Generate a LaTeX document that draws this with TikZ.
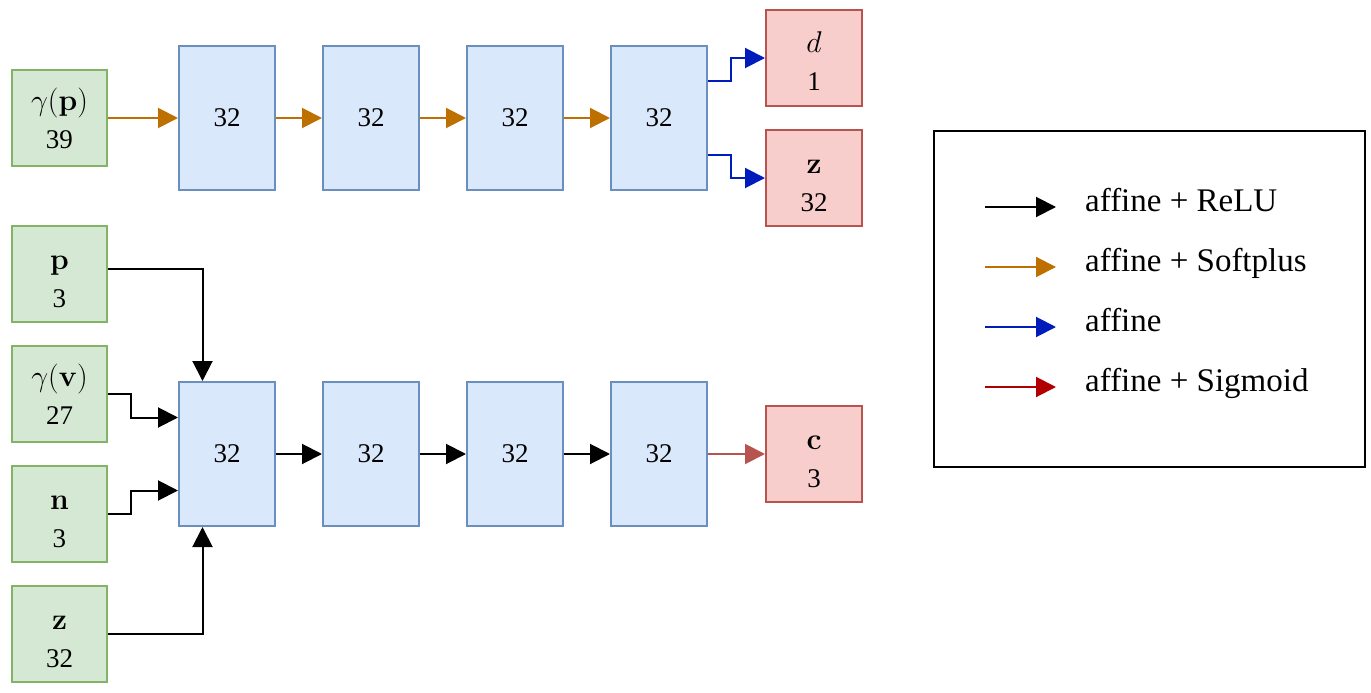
\RequirePackage{fix-cm}
\documentclass[tikz,border=0pt]{standalone}
\usepackage[no-math]{fontspec}
\setmainfont{Liberation Serif}
\usetikzlibrary{arrows.meta,calc}
\definecolor{gfill}{HTML}{D5E8D4}
\definecolor{gdraw}{HTML}{82B366}
\definecolor{bfill}{HTML}{DAE8FC}
\definecolor{bdraw}{HTML}{6C8EBF}
\definecolor{rfill}{HTML}{F8CECC}
\definecolor{rdraw}{HTML}{B85450}
\definecolor{orangeA}{HTML}{BD7000}
\definecolor{blueA}{HTML}{001DBC}
\definecolor{redA}{HTML}{B20000}
\newcommand\mth[1]{{\fontsize{30}{38}\selectfont$#1$}}
\begin{document}
\begin{tikzpicture}[x=1pt,y=-1pt,
  box/.style={draw, line width=2pt, inner sep=0pt, align=center,
    font=\fontsize{27}{38}\selectfont},
  inbox/.style={box, fill=gfill, draw=gdraw, minimum width=95pt, minimum height=96pt},
  hid/.style={box, fill=bfill, draw=bdraw, minimum width=96pt, minimum height=144pt},
  outbox/.style={box, fill=rfill, draw=rdraw, minimum width=96pt, minimum height=96pt},
  fixlines/.style={text height=70pt, text depth=4pt},
  conn/.style={line width=2pt, -{Triangle[length=20pt,width=20pt]}},
  relu/.style={conn, black},
  soft/.style={conn, orangeA},
  aff/.style={conn, blueA},
  sigc/.style={conn, rdraw},
  sigl/.style={conn, redA},
  legtext/.style={anchor=base west, inner sep=0pt, font=\fontsize{33}{40}\selectfont}
]
\useasboundingbox (0,0) rectangle (1371,693);
% top row
\node[inbox] (gp) at (59.5,118) {\mth{\gamma(\mathbf{p})}\\39};
\node[hid] (a1) at (227,118) {32};
\node[hid] (a2) at (371,118) {32};
\node[hid] (a3) at (515,118) {32};
\node[hid] (a4) at (659,118) {32};
\node[outbox, fixlines] (d) at (814,58) {\mth{d}\\1};
\node[outbox, fixlines] (zo) at (814,178) {\mth{\mathbf{z}}\\32};
\draw[soft] (gp) -- (a1);
\draw[soft] (a1) -- (a2);
\draw[soft] (a2) -- (a3);
\draw[soft] (a3) -- (a4);
\draw[aff] ($(a4.north east)!0.25!(a4.south east)$) -- ++(23,0) |- (d.west);
\draw[aff] ($(a4.north east)!0.75!(a4.south east)$) -- ++(23,0) |- (zo.west);
% bottom row
\node[inbox, fixlines] (p) at (59.5,274) {\mth{\mathbf{p}}\\3};
\node[inbox] (gv) at (59.5,394) {\mth{\gamma(\mathbf{v})}\\27};
\node[inbox, fixlines] (n) at (59.5,514) {\mth{\mathbf{n}}\\3};
\node[inbox, fixlines] (z) at (59.5,634) {\mth{\mathbf{z}}\\32};
\node[hid] (b1) at (227,454) {32};
\node[hid] (b2) at (371,454) {32};
\node[hid] (b3) at (515,454) {32};
\node[hid] (b4) at (659,454) {32};
\node[outbox, fixlines] (c) at (814,454) {\mth{\mathbf{c}}\\3};
\draw[relu] ([yshift=5pt]p.east) -| ($(b1.north west)!0.25!(b1.north east)$);
\draw[relu] (gv.east) -- ++(23,0) |- ($(b1.north west)!0.25!(b1.south west)$);
\draw[relu] (n.east) -- ++(23,0) |- ($(b1.north west)!0.75!(b1.south west)$);
\draw[relu] (z.east) -| ($(b1.south west)!0.25!(b1.south east)$);
\draw[relu] (b1) -- (b2);
\draw[relu] (b2) -- (b3);
\draw[relu] (b3) -- (b4);
\draw[sigc] (b4) -- (c);
% legend
\node[draw, line width=2pt, minimum width=431pt, minimum height=336pt, inner sep=0pt] (leg) at (1149.5,299) {};
\coordinate (l1s) at (985,207); \coordinate (l1e) at (1056,207);
\coordinate (l2s) at (985,267); \coordinate (l2e) at (1056,267);
\coordinate (l3s) at (985,327); \coordinate (l3e) at (1056,327);
\coordinate (l4s) at (985,387); \coordinate (l4e) at (1056,387);
\draw[relu] (l1s) -- (l1e);
\draw[soft] (l2s) -- (l2e);
\draw[aff] (l3s) -- (l3e);
\draw[sigl] (l4s) -- (l4e);
\node[legtext] (t1) at (1085,211) {affine + ReLU};
\node[legtext] (t2) at (1085,271) {affine + Softplus};
\node[legtext] (t3) at (1085,331) {affine};
\node[legtext] (t4) at (1085,391) {affine + Sigmoid};
\end{tikzpicture}
\end{document}
